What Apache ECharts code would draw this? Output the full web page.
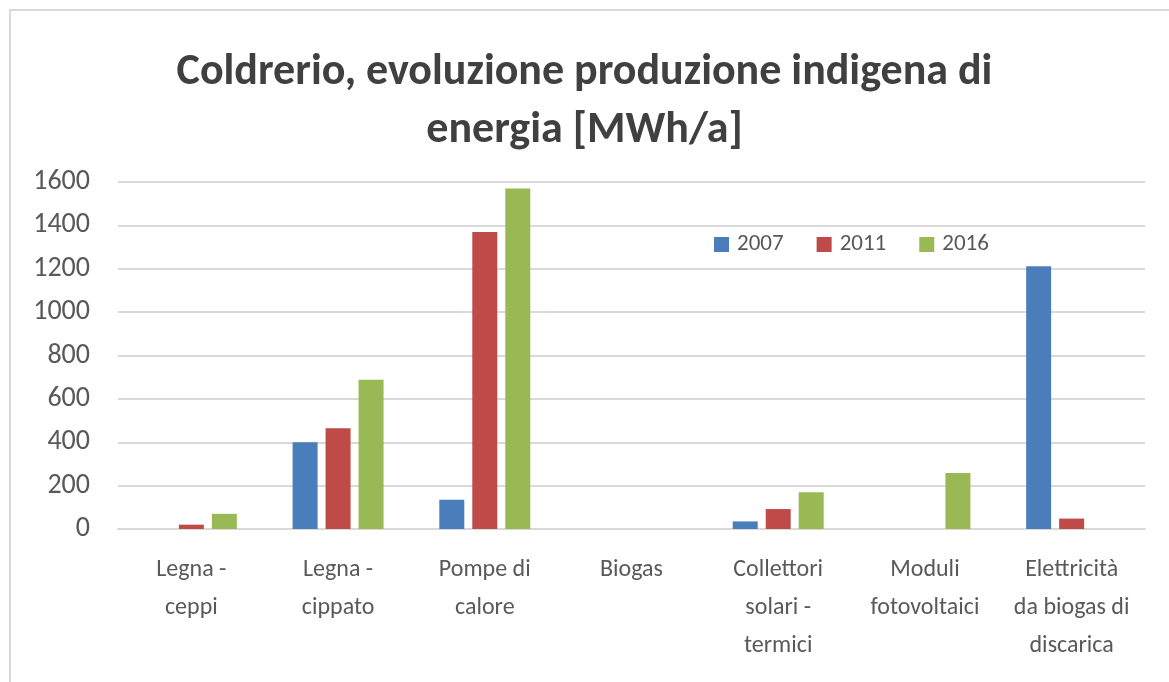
<!DOCTYPE html>
<html>
<head>
<meta charset="utf-8">
<script src="https://cdn.jsdelivr.net/npm/echarts@6/dist/echarts.min.js"></script>
<style>
  html, body { margin: 0; padding: 0; background: #fff; }
  #chart { width: 1169px; height: 682px; }
</style>
</head>
<body>
<div id="chart"></div>
<script>
const categories = [
  "Legna -\nceppi",
  "Legna -\ncippato",
  "Pompe di\ncalore",
  "Biogas",
  "Collettori\nsolari -\ntermici",
  "Moduli\nfotovoltaici",
  "Elettricità\nda biogas di\ndiscarica"
];
const seriesNames = ["2007", "2011", "2016"];
const values2007 = [0, 400, 135, 0, 35, 0, 1212];
const values2011 = [20, 464, 1370, 0, 92, 0, 48];
const values2016 = [70, 688, 1570, 0, 170, 258, 0];
const colors = ["#4a7ebb", "#be4b48", "#98b954"];

const chart = echarts.init(document.getElementById("chart"));

const font = "Carlito, 'Open Sans', sans-serif";

const series = [values2007, values2011, values2016].map((vals, i) => ({
  name: seriesNames[i],
  type: "bar",
  data: vals,
  barGap: "32%",
  barCategoryGap: "38%",
  itemStyle: { color: colors[i] }
}));

chart.setOption({
  backgroundColor: "#fff",
  animation: false,
  title: {
    text: "Coldrerio, evoluzione produzione indigena di\nenergia [MWh/a]",
    left: "center",
    top: 39,
    textStyle: {
      fontFamily: font,
      fontSize: 44,
      fontWeight: "bold",
      color: "#404040",
      lineHeight: 58
    }
  },
  legend: {
    data: seriesNames,
    left: 709,
    top: 228,
    itemWidth: 15,
    itemHeight: 15,
    itemGap: 33,
    icon: "rect",
    textStyle: { fontFamily: font, fontSize: 23, color: "#595959", padding: [0, 0, 0, 3] }
  },
  grid: {
    left: 118,
    right: 24,
    top: 182,
    bottom: 153
  },
  xAxis: {
    type: "category",
    data: categories,
    axisTick: { show: false },
    axisLine: { lineStyle: { color: "#d9d9d9", width: 2 } },
    axisLabel: {
      interval: 0,
      margin: 22,
      fontFamily: font,
      fontSize: 24,
      lineHeight: 38,
      color: "#595959"
    }
  },
  yAxis: {
    type: "value",
    min: 0,
    max: 1600,
    interval: 200,
    axisLine: { show: false },
    axisTick: { show: false },
    axisLabel: {
      margin: 28,
      fontFamily: font,
      fontSize: 28,
      color: "#595959",
      formatter: (v) => String(v)
    },
    splitLine: { lineStyle: { color: "#d9d9d9", width: 2 } }
  },
  graphic: [{
    type: "rect",
    shape: { x: 10, y: 10, width: 1170, height: 690 },
    style: { fill: null, stroke: "#d9d9d9", lineWidth: 2 },
    silent: true
  }],
  series: series
});
</script>
</body>
</html>
